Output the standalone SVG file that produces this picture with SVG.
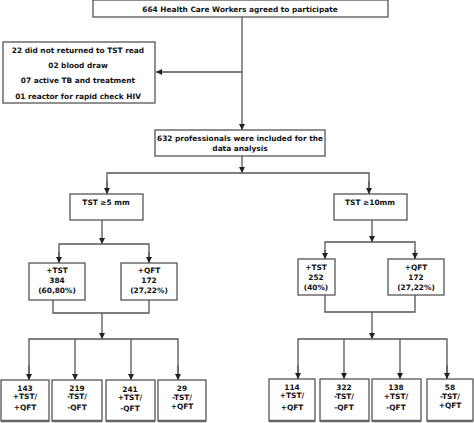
<svg xmlns="http://www.w3.org/2000/svg" width="474" height="423" viewBox="0 0 474 423">
<defs>
<marker id="ah" viewBox="0 0 10 10" refX="10" refY="5" markerWidth="6" markerHeight="6" markerUnits="userSpaceOnUse" orient="auto"><path d="M0,0 L10,5 L0,10 z" fill="#222"/></marker>
<style>
.b{fill:#fff;stroke:#555;stroke-width:1.3}
.bb{fill:#fff;stroke:#555;stroke-width:1.3}
.t{font-family:"DejaVu Sans","Liberation Sans",sans-serif;font-weight:bold;font-size:7.4px;fill:#111;text-anchor:middle}
.c{fill:none;stroke:#555;stroke-width:1.3}
.a{fill:none;stroke:#555;stroke-width:1.3;marker-end:url(#ah)}
.sh{stroke:#666;stroke-width:2.5}
</style>
</defs>
<rect width="474" height="423" fill="#fff"/>
<g id="connectors">
<line class="c" x1="242" y1="17" x2="242" y2="72"/>
<line class="a" x1="242" y1="72" x2="156" y2="72"/>
<line class="a" x1="242" y1="72" x2="242" y2="130"/>
<line class="a" x1="242" y1="156" x2="242" y2="173"/>
<polyline class="c" points="107,194 107,173 369,173 369,194"/>
<line class="a" x1="107" y1="181" x2="107" y2="194"/>
<line class="a" x1="369" y1="181" x2="369" y2="194"/>
<line class="a" x1="102" y1="220" x2="102" y2="244"/>
<polyline class="c" points="59,263 59,244 149,244 149,263"/>
<line class="a" x1="59" y1="252" x2="59" y2="263"/>
<line class="a" x1="149" y1="252" x2="149" y2="263"/>
<line class="a" x1="372" y1="220" x2="372" y2="242"/>
<polyline class="c" points="325,259 325,242 415,242 415,259"/>
<line class="a" x1="325" y1="250" x2="325" y2="259"/>
<line class="a" x1="415" y1="250" x2="415" y2="259"/>
<polyline class="c" points="53,300 53,313 149,313 149,300"/>
<line class="a" x1="102" y1="313" x2="102" y2="339"/>
<polyline class="c" points="29,380 29,339 178,339 178,380"/>
<line class="a" x1="29" y1="365" x2="29" y2="380"/>
<line class="a" x1="75" y1="339" x2="75" y2="380"/>
<line class="a" x1="131" y1="339" x2="131" y2="380"/>
<line class="a" x1="178" y1="365" x2="178" y2="380"/>
<polyline class="c" points="325,295 325,312 415,312 415,295"/>
<line class="a" x1="372" y1="312" x2="372" y2="339"/>
<polyline class="c" points="298,379 298,339 447,339 447,379"/>
<line class="a" x1="298" y1="365" x2="298" y2="379"/>
<line class="a" x1="344" y1="339" x2="344" y2="379"/>
<line class="a" x1="400" y1="339" x2="400" y2="379"/>
<line class="a" x1="447" y1="365" x2="447" y2="379"/>
</g>
<g id="n_top"><rect class="b" x="93" y="0" width="295" height="17"/><text class="t" x="240" y="12">664 Health Care Workers agreed to participate</text></g>
<g id="n_excl"><rect class="b" x="3" y="42" width="152" height="61"/>
<text class="t" x="78" y="53">22 did not returned to TST read</text>
<text class="t" x="78" y="68">02 blood draw</text>
<text class="t" x="78" y="83">07 active TB and treatment</text>
<text class="t" x="78" y="99">01 reactor for rapid check HIV</text></g>
<g id="n_632"><rect class="b" x="155" y="130" width="170" height="26"/>
<text class="t" x="240" y="141">632 professionals were included for the</text>
<text class="t" x="240" y="151">data analysis</text></g>
<g id="n_tst5"><rect class="b" x="70" y="194" width="73" height="26"/><text class="t" x="106" y="205">TST ≥5 mm</text></g>
<g id="n_tst10"><rect class="b" x="334" y="194" width="73" height="26"/><text class="t" x="370" y="205">TST ≥10mm</text></g>
<g id="n_ptst5"><rect class="b" x="29" y="263" width="56" height="37"/>
<text class="t" x="57" y="273">+TST</text><text class="t" x="57" y="283">384</text><text class="t" x="57" y="293">(60,80%)</text></g>
<g id="n_pqft5"><rect class="b" x="121" y="263" width="56" height="37"/>
<text class="t" x="149" y="273">+QFT</text><text class="t" x="149" y="283">172</text><text class="t" x="149" y="293">(27,22%)</text></g>
<g id="n_ptst10"><rect class="b" x="298" y="259" width="37" height="36"/>
<text class="t" x="316" y="270">+TST</text><text class="t" x="316" y="280">252</text><text class="t" x="316" y="290">(40%)</text></g>
<g id="n_pqft10"><rect class="b" x="388" y="259" width="56" height="36"/>
<text class="t" x="416" y="270">+QFT</text><text class="t" x="416" y="280">172</text><text class="t" x="416" y="290">(27,22%)</text></g>
<g id="n_b1"><rect class="bb" x="1" y="380" width="48" height="41"/><line class="sh" x1="1" y1="421" x2="49" y2="421"/>
<text class="t" x="25" y="391">143</text><text class="t" x="25" y="399">+TST/</text><text class="t" x="25" y="410">+QFT</text></g>
<g id="n_b2"><rect class="bb" x="52" y="380" width="50" height="41"/><line class="sh" x1="52" y1="421" x2="102" y2="421"/>
<text class="t" x="77" y="391">219</text><text class="t" x="77" y="399">-TST/</text><text class="t" x="77" y="410">-QFT</text></g>
<g id="n_b3"><rect class="bb" x="106" y="380" width="49" height="41"/><line class="sh" x1="106" y1="421" x2="155" y2="421"/>
<text class="t" x="130" y="392">241</text><text class="t" x="130" y="400">+TST/</text><text class="t" x="130" y="411">-QFT</text></g>
<g id="n_b4"><rect class="bb" x="158" y="380" width="48" height="41"/><line class="sh" x1="158" y1="421" x2="206" y2="421"/>
<text class="t" x="182" y="391">29</text><text class="t" x="182" y="400">-TST/</text><text class="t" x="182" y="409">+QFT</text></g>
<g id="n_b5"><rect class="bb" x="269" y="379" width="46" height="42"/><line class="sh" x1="269" y1="421" x2="315" y2="421"/>
<text class="t" x="292" y="390">114</text><text class="t" x="292" y="398">+TST/</text><text class="t" x="292" y="410">+QFT</text></g>
<g id="n_b6"><rect class="bb" x="320" y="379" width="49" height="42"/><line class="sh" x1="320" y1="421" x2="369" y2="421"/>
<text class="t" x="344" y="390">322</text><text class="t" x="344" y="399">-TST/</text><text class="t" x="344" y="410">-QFT</text></g>
<g id="n_b7"><rect class="bb" x="372" y="379" width="49" height="42"/><line class="sh" x1="372" y1="421" x2="421" y2="421"/>
<text class="t" x="396" y="390">138</text><text class="t" x="396" y="399">+TST/</text><text class="t" x="396" y="410">-QFT</text></g>
<g id="n_b8"><rect class="bb" x="427" y="379" width="46" height="42"/><line class="sh" x1="427" y1="421" x2="473" y2="421"/>
<text class="t" x="450" y="390">58</text><text class="t" x="450" y="399">-TST/</text><text class="t" x="450" y="408">+QFT</text></g>
</svg>
